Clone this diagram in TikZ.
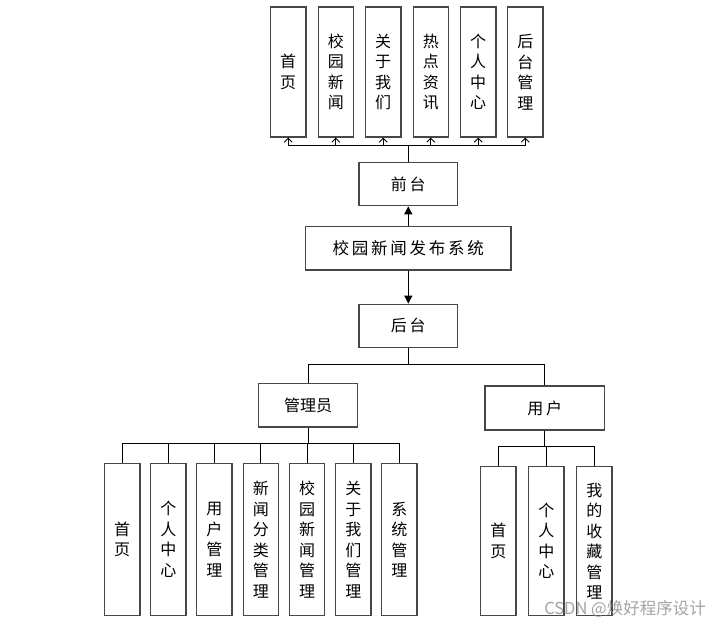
\documentclass[tikz,border=0pt]{standalone}
\usepackage{fontspec}
\newfontfamily\cjk{Noto Sans CJK SC}
\usetikzlibrary{arrows.meta}
\begin{document}
\begin{tikzpicture}[x=1pt,y=-1pt,
  box/.style={draw=black!72,line width=1.3pt,fill=white,inner sep=0pt,font=\cjk\fontsize{16}{20.5}\selectfont},
  hbox/.style={box,align=center},
  vbox/.style={box,align=center,minimum width=35.3pt},
  conn/.style={draw=black,line width=0.9pt},
  upar/.style={conn,-{Straight Barb[length=4pt,width=8pt]}},
  bigar/.style={conn,line width=1.2pt,-{Triangle[length=8pt,width=8pt]}}]
\useasboundingbox (0,0) rectangle (720,631);
% top level
\node[hbox,minimum width=205.3pt,minimum height=43.3pt,font=\cjk\fontsize{16.5}{20}\selectfont] (sys) at (408.3,248.3) {校\,园\,新\,闻\,发\,布\,系\,统};
\node[hbox,minimum width=98.7pt,minimum height=43pt] (qt) at (408.3,184.2) {前\,台};
\node[hbox,minimum width=98.7pt,minimum height=43pt] (ht) at (408.3,325.8) {后\,台};
\draw[bigar] (sys.north) -- (qt.south);
\draw[bigar] (sys.south) -- (ht.south |- ht.north);
% front leaves
\foreach \n/\x/\t in {f1/288.2/{首\\页},f2/335.8/{校\\园\\新\\闻},f3/383.2/{关\\于\\我\\们},f4/430.8/{热\\点\\资\\讯},f5/478.2/{个\\人\\中\\心},f6/525.3/{后\\台\\管\\理}}{
  \node[vbox,minimum height=130pt] (\n) at (\x,72) {\t};
}
\coordinate (fb) at (408.3,145.7);
\draw[conn] (qt.north) -- (fb);
\foreach \n in {f1,f2,f3,f4,f5,f6}{ \draw[upar] (fb) -| (\n.south); }
% back
\node[hbox,minimum width=99.4pt,minimum height=43.3pt] (gly) at (308,405.3) {管理员};
\node[hbox,minimum width=119.3pt,minimum height=44pt] (yh) at (544.7,408) {用\,户};
\coordinate (hb) at (408.3,364);
\draw[conn] (ht.south) -- (hb);
\draw[conn] (hb) -| (gly.north);
\draw[conn] (hb) -| (yh.north);
% admin leaves
\foreach \n/\x/\t in {a1/122.2/{首\\页},a2/168.4/{个\\人\\中\\心},a3/214.4/{用\\户\\管\\理},a4/260.8/{新\\闻\\分\\类\\管\\理},a5/307/{校\\园\\新\\闻\\管\\理},a6/353.3/{关\\于\\我\\们\\管\\理},a7/399.3/{系\\统\\管\\理}}{
  \node[vbox,minimum height=152.4pt] (\n) at (\x,539.5) {\t};
}
\coordinate (ab) at (308,443.3);
\draw[conn] (gly.south) -- (ab);
\foreach \n in {a1,a2,a3,a4,a5,a6,a7}{ \draw[conn] (ab) -| (\n.north); }
% user leaves
\foreach \n/\x/\t in {u1/498.3/{首\\页},u2/546.3/{个\\人\\中\\心},u3/594.3/{我\\的\\收\\藏\\管\\理}}{
  \node[vbox,minimum height=148.6pt] (\n) at (\x,541) {\t};
}
\coordinate (ub) at (544.7,446.7);
\draw[conn] (yh.south) -- (ub);
\foreach \n in {u1,u2,u3}{ \draw[conn] (ub) -| (\n.north); }
% watermark
\node[text=black!45,opacity=0.8,font=\cjk\fontsize{16.5}{18}\selectfont,anchor=east,inner sep=0pt] (wm) at (706,609) {CSDN @焕好程序设计};
\end{tikzpicture}
\end{document}
